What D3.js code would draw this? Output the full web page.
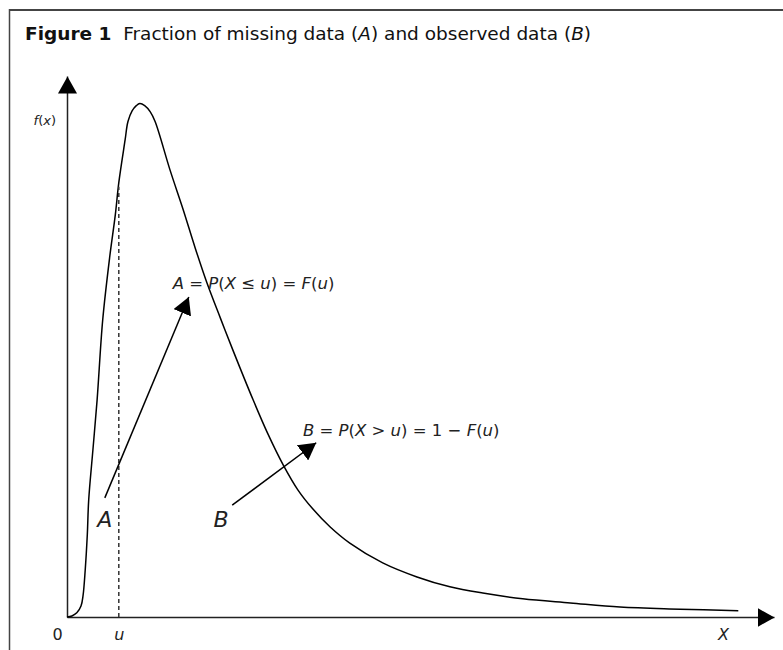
<!DOCTYPE html>
<html>
<head>
<meta charset="utf-8">
<script src="https://cdn.jsdelivr.net/npm/d3@7"></script>
<style>
  body { margin: 0; background: #fff; }
  svg { display: block; }
</style>
</head>
<body>
<svg id="chart" width="783" height="650"></svg>
<script>
// density curve f(x)
const densityX = [0, 0.07, 0.14, 0.2, 0.23, 0.26, 0.29, 0.31, 0.37, 0.43, 0.51, 0.61, 0.69, 0.74,
  0.83, 0.87, 0.93, 0.99, 1.04, 1.11, 1.19, 1.26, 1.47, 1.66, 1.83, 2.0, 2.19, 2.37, 2.66,
  2.87, 3.09, 3.3, 3.51, 3.76, 4.04, 4.51, 5.0, 5.47, 5.94, 6.51, 7.19, 7.9, 8.76, 9.59];
const densityY = [0, 0.002, 0.008, 0.021, 0.042, 0.09, 0.158, 0.225, 0.321, 0.417, 0.571, 0.692,
  0.773, 0.835, 0.917, 0.952, 0.973, 0.983, 0.987, 0.983, 0.971, 0.952, 0.86, 0.783, 0.71,
  0.642, 0.575, 0.513, 0.417, 0.352, 0.292, 0.244, 0.208, 0.173, 0.142, 0.104, 0.077, 0.058,
  0.046, 0.035, 0.027, 0.019, 0.015, 0.012];

const uCut = 0.74;

const axisTickValues = [0, uCut, 9.37];
const axisTickLabels = ["0", "u", "X"];

const arrowNames = ["A", "B"];
const arrowFrom = [[0.54, 0.229], [2.36, 0.215]];
const arrowTo = [[1.74, 0.615], [3.56, 0.335]];
const letterAt = [[0.54, 0.173], [2.2, 0.173]];

// equation pieces: [text, italic?]
const equationA = [["A", 1], [" = ", 0], ["P", 1], ["(", 0], ["X", 1], [" ≤ ", 0], ["u", 1], [") = ", 0], ["F", 1], ["(", 0], ["u", 1], [")", 0]];
const equationB = [["B", 1], [" = ", 0], ["P", 1], ["(", 0], ["X", 1], [" > ", 0], ["u", 1], [") = 1 − ", 0], ["F", 1], ["(", 0], ["u", 1], [")", 0]];
const equationAt = [[1.51, 0.631], [3.37, 0.348]];

const titleParts = [["Figure 1", "bold", "normal"], ["  Fraction of missing data (", "normal", "normal"], ["A", "normal", "italic"],
  [") and observed data (", "normal", "normal"], ["B", "normal", "italic"], [")", "normal", "normal"]];

const svg = d3.select("#chart");
const fontFamily = "'DejaVu Sans', sans-serif";

const x = d3.scaleLinear().domain([0, 10.1]).range([67, 774]);
const y = d3.scaleLinear().domain([0, 1.04]).range([617, 76]);

// frame
svg.append("line")
  .attr("x1", 9).attr("x2", 783).attr("y1", 10).attr("y2", 10)
  .attr("stroke", "#444").attr("stroke-width", 2);
svg.append("line")
  .attr("x1", 9.5).attr("x2", 9.5).attr("y1", 9).attr("y2", 650)
  .attr("stroke", "#444").attr("stroke-width", 1.5);

// title
const title = svg.append("text")
  .attr("x", 25).attr("y", 40)
  .attr("font-family", fontFamily)
  .attr("font-size", 18.5)
  .attr("fill", "#111")
  .attr("xml:space", "preserve");
titleParts.forEach(part => {
  title.append("tspan")
    .text(part[0])
    .attr("font-weight", part[1])
    .attr("font-style", part[2]);
});

// arrowheads
svg.append("defs").append("marker")
  .attr("id", "head")
  .attr("markerUnits", "userSpaceOnUse")
  .attr("markerWidth", 18).attr("markerHeight", 19)
  .attr("refX", 17).attr("refY", 9.5)
  .attr("orient", "auto")
  .append("path")
  .attr("d", "M0,0L17,9.5L0,19Z")
  .attr("fill", "#000");

// axes
const xAxis = svg.append("g")
  .attr("transform", `translate(0,${y(0)})`)
  .call(d3.axisBottom(x).tickValues(axisTickValues).tickSize(0).tickSizeOuter(0)
    .tickPadding(12).tickFormat((d, i) => axisTickLabels[i]));
xAxis.select(".domain").attr("stroke", "#222").attr("stroke-width", 1.5).attr("marker-end", "url(#head)");
xAxis.selectAll(".tick text")
  .attr("font-family", fontFamily)
  .attr("font-size", 16)
  .attr("fill", "#222")
  .attr("font-style", (d, i) => i === 0 ? "normal" : "italic")
  .attr("dx", (d, i) => i === 0 ? -10 : 0);

const yAxis = svg.append("g")
  .attr("transform", `translate(${x(0)},0)`)
  .call(d3.axisLeft(y).tickValues([]).tickSizeOuter(0));
yAxis.select(".domain").attr("stroke", "#222").attr("stroke-width", 1.5).attr("marker-end", "url(#head)");

svg.append("text")
  .attr("x", x(0) - 11).attr("y", y(0.945))
  .attr("text-anchor", "end")
  .attr("font-family", fontFamily)
  .attr("font-size", 13)
  .attr("fill", "#222")
  .call(t => {
    t.append("tspan").attr("font-style", "italic").text("f");
    t.append("tspan").text("(");
    t.append("tspan").attr("font-style", "italic").text("x");
    t.append("tspan").text(")");
  });

// density curve
const points = densityX.map((d, i) => [d, densityY[i]]);
svg.append("path")
  .datum(points)
  .attr("fill", "none")
  .attr("stroke", "#000")
  .attr("stroke-width", 1.5)
  .attr("d", d3.line().x(d => x(d[0])).y(d => y(d[1])).curve(d3.curveCatmullRom.alpha(0.5)));

// dashed line at u
const k = d3.bisectRight(densityX, uCut);
const fu = d3.interpolateNumber(densityY[k - 1], densityY[k])((uCut - densityX[k - 1]) / (densityX[k] - densityX[k - 1]));
svg.append("line")
  .attr("x1", x(uCut)).attr("x2", x(uCut))
  .attr("y1", y(0)).attr("y2", y(fu) + 4)
  .attr("stroke", "#333")
  .attr("stroke-width", 1.5)
  .attr("stroke-dasharray", "4,3");

// arrows A and B
arrowNames.forEach((name, i) => {
  svg.append("line")
    .attr("x1", x(arrowFrom[i][0])).attr("y1", y(arrowFrom[i][1]))
    .attr("x2", x(arrowTo[i][0])).attr("y2", y(arrowTo[i][1]))
    .attr("stroke", "#000")
    .attr("stroke-width", 1.5)
    .attr("marker-end", "url(#head)");

  svg.append("text")
    .attr("x", x(letterAt[i][0])).attr("y", y(letterAt[i][1]))
    .attr("text-anchor", "middle")
    .attr("font-family", fontFamily)
    .attr("font-size", 22)
    .attr("font-style", "italic")
    .attr("fill", "#222")
    .text(name);
});

// equations
[equationA, equationB].forEach((parts, i) => {
  const t = svg.append("text")
    .attr("x", x(equationAt[i][0])).attr("y", y(equationAt[i][1]))
    .attr("font-family", fontFamily)
    .attr("font-size", 16.5)
    .attr("fill", "#222")
    .attr("xml:space", "preserve");
  parts.forEach(p => {
    t.append("tspan").attr("font-style", p[1] ? "italic" : "normal").text(p[0]);
  });
});
</script>
</body>
</html>
